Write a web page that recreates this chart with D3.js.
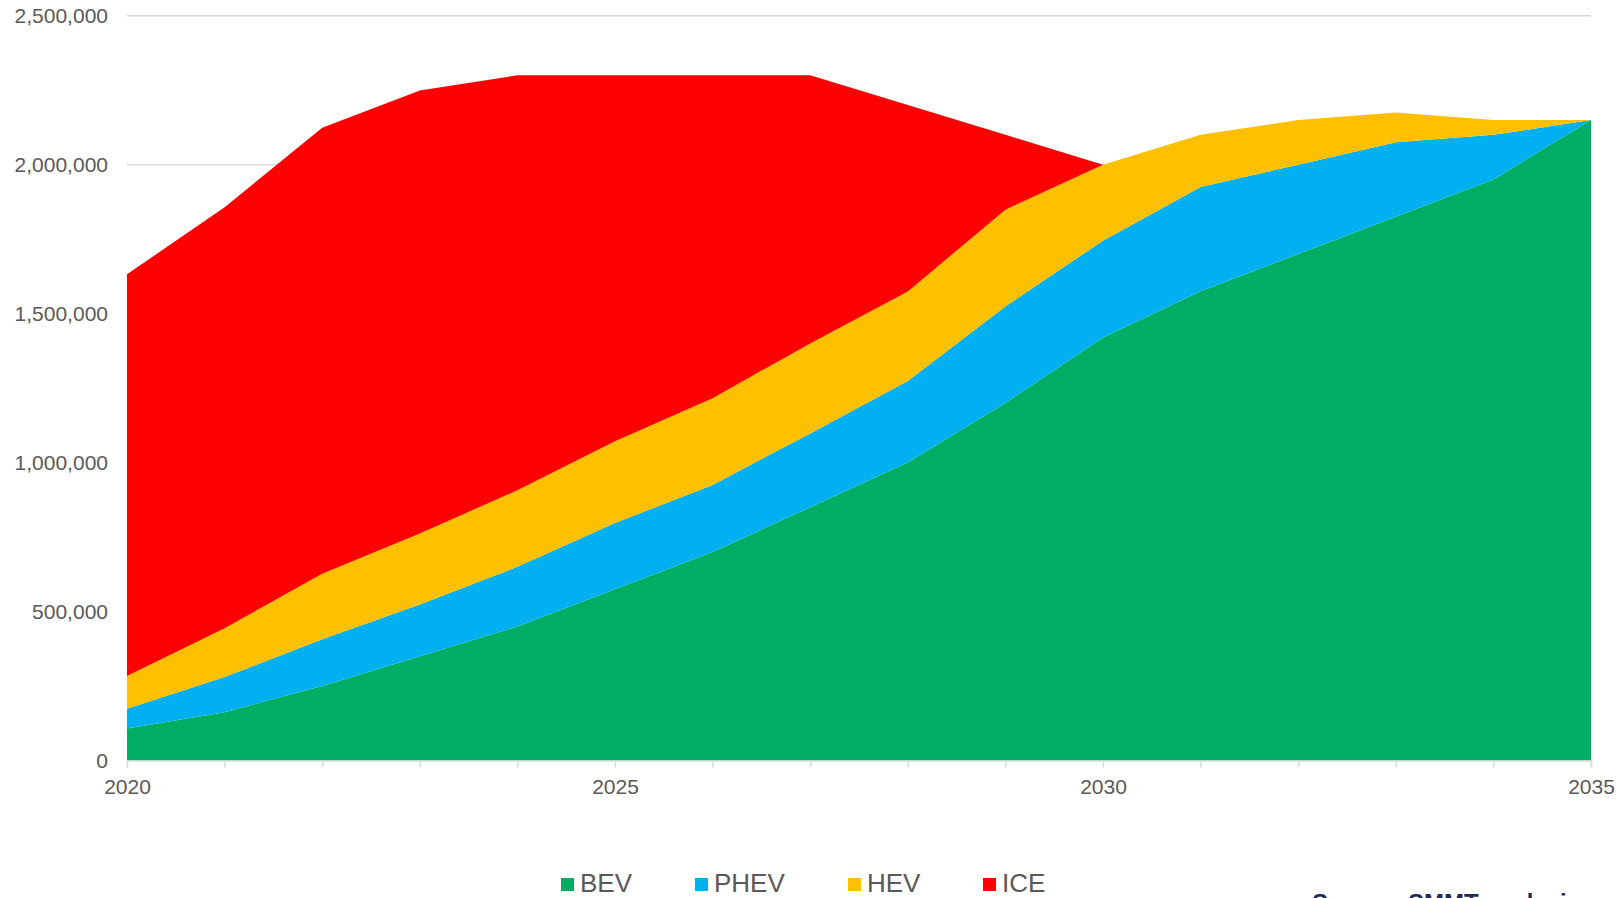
<!DOCTYPE html>
<html>
<head>
<meta charset="utf-8">
<script src="https://cdn.jsdelivr.net/npm/d3@7"></script>
<style>
  html, body { margin: 0; padding: 0; background: #ffffff; overflow: hidden; }
  svg { display: block; }
  text { font-family: "Liberation Sans", Arial, sans-serif; }
</style>
</head>
<body>
<svg id="chart" width="1617" height="898"></svg>
<script>
const years = [2020, 2021, 2022, 2023, 2024, 2025, 2026, 2027, 2028, 2029, 2030, 2031, 2032, 2033, 2034, 2035];
const seriesNames = ["BEV", "PHEV", "HEV", "ICE"];
const bev  = [107000, 162000, 250000, 350000, 450000, 575000, 700000, 850000, 1000000, 1200000, 1420000, 1575000, 1700000, 1825000, 1950000, 2150000];
const phev = [67000, 118000, 157000, 174000, 200000, 222000, 225000, 248000, 274000, 324000, 325000, 350000, 300000, 250000, 150000, 0];
const hev  = [110000, 164000, 220000, 238000, 257000, 275000, 291000, 302000, 300000, 325000, 255000, 175000, 150000, 100000, 50000, 0];
const ice  = [1348000, 1413000, 1497000, 1487000, 1393000, 1228000, 1084000, 900000, 626000, 251000, 0, 0, 0, 0, 0, 0];
const colors = ["#00ae63", "#00b0f0", "#ffc000", "#ff0000"];
const yTicks = [0, 500000, 1000000, 1500000, 2000000, 2500000];
const xLabelYears = [2020, 2025, 2030, 2035];

const table = years.map((yr, i) => ({ year: yr, BEV: bev[i], PHEV: phev[i], HEV: hev[i], ICE: ice[i] }));

const svg = d3.select("#chart");
const plotLeft = 127, plotRight = 1591, plotTop = 15.7, plotBottom = 760.5;

const x = d3.scaleLinear().domain([2020, 2035]).range([plotLeft, plotRight]);
const y = d3.scaleLinear().domain([0, 2500000]).range([plotBottom, plotTop]);

// gridlines
svg.append("g").selectAll("line").data(yTicks.filter(d => d > 0)).join("line")
  .attr("x1", plotLeft).attr("x2", plotRight)
  .attr("y1", d => y(d)).attr("y2", d => y(d))
  .attr("stroke", "#d9d9d9").attr("stroke-width", 1.5);

// stacked areas
const stack = d3.stack().keys(seriesNames);
const layers = stack(table);
const area = d3.area()
  .x(d => x(d.data.year))
  .y0(d => y(d[0]))
  .y1(d => y(d[1]))
  .curve(d3.curveLinear);

svg.append("g").selectAll("path").data(layers).join("path")
  .attr("d", area)
  .attr("fill", (d, i) => colors[i]);

// x axis
const xAxis = d3.axisBottom(x)
  .tickValues(years)
  .tickSize(7)
  .tickFormat(d => xLabelYears.includes(d) ? String(d) : "");
const gx = svg.append("g").attr("transform", `translate(0,${plotBottom})`).call(xAxis);
gx.select(".domain").attr("stroke", "#d9d9d9").attr("stroke-width", 1.5);
gx.selectAll(".tick line").attr("stroke", "#d9d9d9").attr("stroke-width", 1.5);
gx.selectAll(".tick text")
  .attr("fill", "#595959")
  .attr("font-size", "21px")
  .attr("font-family", "Liberation Sans, Arial, sans-serif")
  .attr("dy", null)
  .attr("y", 33);

// y axis labels
const yAxis = d3.axisLeft(y)
  .tickValues(yTicks)
  .tickSize(0)
  .tickPadding(19)
  .tickFormat(d3.format(","));
const gy = svg.append("g").attr("transform", `translate(${plotLeft},0)`).call(yAxis);
gy.select(".domain").remove();
gy.selectAll(".tick text")
  .attr("fill", "#595959")
  .attr("font-size", "21px")
  .attr("font-family", "Liberation Sans, Arial, sans-serif");

// legend
const legendX = [561, 695, 848, 983];
const legend = svg.append("g");
seriesNames.forEach((name, i) => {
  legend.append("rect")
    .attr("x", legendX[i]).attr("y", 878)
    .attr("width", 13).attr("height", 13)
    .attr("fill", colors[i]);
  legend.append("text")
    .attr("x", legendX[i] + 19).attr("y", 892)
    .attr("fill", "#595959")
    .attr("font-size", "26px")
    .text(name);
});

// source note (partly cut off at the bottom edge, as in the reference)
const src = svg.append("text")
  .attr("x", 1312).attr("y", 911)
  .attr("fill", "#1f2a5c")
  .attr("font-size", "24px")
  .attr("font-weight", "bold");
src.append("tspan").text("Source: ");
src.append("tspan").text("SMMT analysis");
</script>
</body>
</html>
